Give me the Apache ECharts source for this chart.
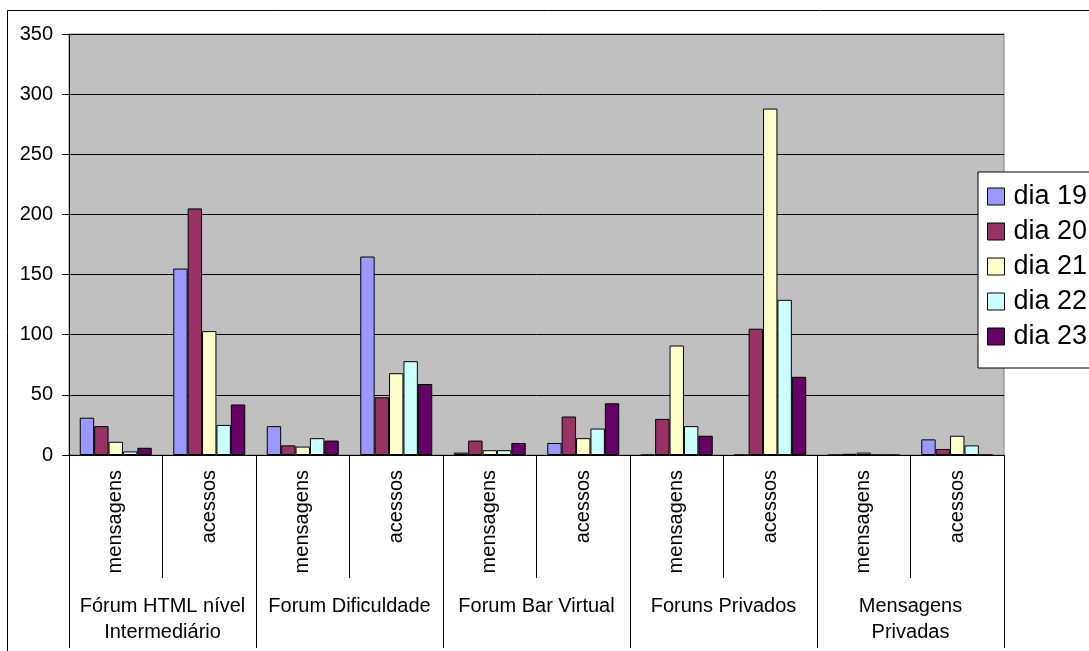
<!DOCTYPE html>
<html>
<head>
<meta charset="utf-8">
<script src="https://cdn.jsdelivr.net/npm/echarts@6/dist/echarts.min.js"></script>
<style>
  html, body { margin: 0; padding: 0; background: #fff; }
  #chart { width: 1089px; height: 651px; }
</style>
</head>
<body>
<div id="chart"></div>
<script>
// Acessos e mensagens por fórum, dias 19 a 23
const subCategories = ['mensagens', 'acessos', 'mensagens', 'acessos', 'mensagens', 'acessos', 'mensagens', 'acessos', 'mensagens', 'acessos'];
const groups = ['Fórum HTML nível\nIntermediário', 'Forum Dificuldade', 'Forum Bar Virtual', 'Foruns Privados', 'Mensagens\nPrivadas'];
const seriesNames = ['dia 19', 'dia 20', 'dia 21', 'dia 22', 'dia 23'];

const dia19 = [31, 155, 24, 165, 2, 10, 0, 0, 0, 13];
const dia20 = [24, 205, 8, 48, 12, 32, 30, 105, 1, 5];
const dia21 = [11, 103, 7, 68, 4, 14, 91, 288, 2, 16];
const dia22 = [3, 25, 14, 78, 4, 22, 24, 129, 0, 8];
const dia23 = [6, 42, 12, 59, 10, 43, 16, 65, 0, 0];

const yTicks = { min: 0, max: 350, interval: 50 };

const colors = ['#9999FF', '#993366', '#FFFFCC', '#CCFFFF', '#660066'];
const values = [dia19, dia20, dia21, dia22, dia23];
const FONT = '"Liberation Sans", Arial, sans-serif';

const chart = echarts.init(document.getElementById('chart'), null, { renderer: 'canvas' });

const series = seriesNames.map((name, i) => ({
  name: name,
  type: 'bar',
  xAxisIndex: 0,
  yAxisIndex: 0,
  data: values[i],
  barGap: '0%',
  barCategoryGap: '23%',
  itemStyle: { color: colors[i], borderColor: '#000', borderWidth: 1 },
  emphasis: { disabled: true },
  animation: false
}));

chart.setOption({
  backgroundColor: '#fff',
  animation: false,
  color: colors,
  grid: {
    left: 69, right: 85, top: 34, bottom: 196,
    show: true,
    backgroundColor: '#C0C0C0',
    borderColor: '#808080',
    borderWidth: 1
  },
  graphic: [{
    type: 'rect',
    shape: { x: 7.5, y: 10.5, width: 1200, height: 800 },
    style: { fill: 'none', stroke: '#000', lineWidth: 1 },
    silent: true,
    z: -1
  }],
  legend: {
    orient: 'vertical',
    left: 978,
    top: 172,
    padding: [11, 60, 18, 9],
    itemGap: 8,
    itemWidth: 17,
    itemHeight: 17,
    icon: 'rect',
    backgroundColor: '#fff',
    borderColor: '#000',
    borderWidth: 1,
    borderRadius: 0,
    selectedMode: false,
    itemStyle: { borderColor: '#000', borderWidth: 1 },
    textStyle: { fontFamily: FONT, fontSize: 27, color: '#000', lineHeight: 27, padding: [0, 0, 0, 4] },
    data: seriesNames
  },
  xAxis: [{
    type: 'category',
    data: subCategories,
    position: 'bottom',
    axisLine: { show: true, lineStyle: { color: '#000', width: 1 } },
    axisTick: { show: true, interval: 0, length: 123, lineStyle: { color: '#000', width: 1 } },
    axisLabel: {
      interval: 0, rotate: 90, margin: 15,
      fontFamily: FONT, fontSize: 20, color: '#000'
    },
    splitLine: { show: false }
  }, {
    type: 'category',
    data: groups,
    position: 'bottom',
    axisLine: { show: false },
    axisTick: { show: true, interval: 0, length: 193, lineStyle: { color: '#000', width: 1 } },
    axisLabel: {
      interval: 0, margin: 138,
      fontFamily: FONT, fontSize: 20, color: '#000', lineHeight: 26,
      verticalAlign: 'top', align: 'center'
    },
    splitLine: { show: false }
  }],
  yAxis: {
    type: 'value',
    min: yTicks.min,
    max: yTicks.max,
    interval: yTicks.interval,
    axisLine: { show: true, lineStyle: { color: '#000', width: 1 } },
    axisTick: { show: true, length: 7, lineStyle: { color: '#000', width: 1 } },
    axisLabel: { margin: 16, fontFamily: FONT, fontSize: 20, color: '#000' },
    splitLine: { show: true, lineStyle: { color: '#000', width: 1 } }
  },
  series: series
});
</script>
</body>
</html>
